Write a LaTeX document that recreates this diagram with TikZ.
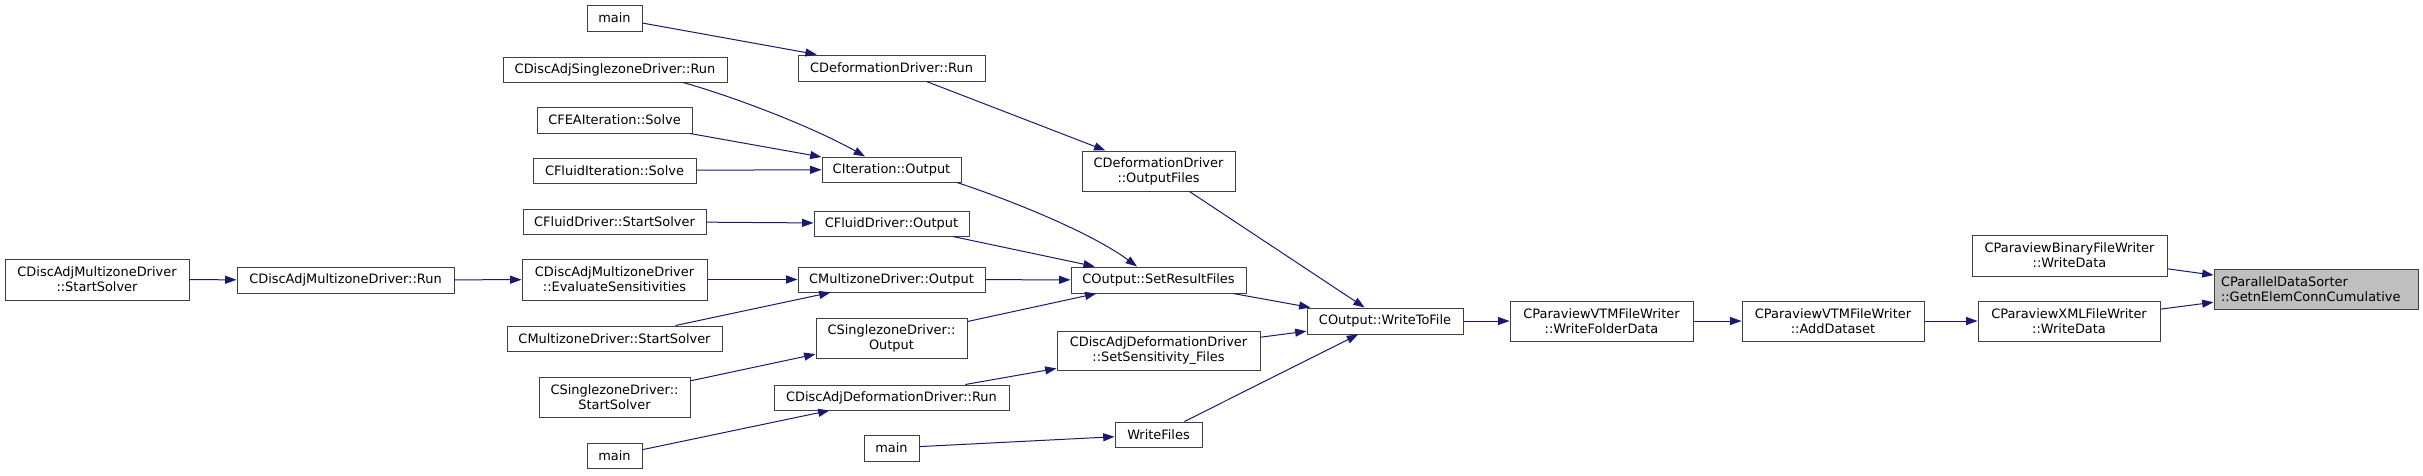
\documentclass[tikz,border=0pt]{standalone}
\usepackage{fontspec}
\setmainfont{DejaVu Sans}
\usetikzlibrary{arrows.meta}
\definecolor{edgeblue}{HTML}{191970}
\definecolor{boxline}{HTML}{404040}
\definecolor{rootfill}{HTML}{BFBFBF}
\newcommand{\nodefont}{\fontsize{9.7}{11.25}\selectfont}
\begin{document}
\begin{tikzpicture}[x=0.75pt,y=-0.75pt,
  box/.style={draw=boxline, line width=0.75pt, fill=white, inner sep=0pt, align=center, font=\nodefont},
  wh/.style 2 args={minimum width=#1*0.75pt, minimum height=#2*0.75pt},
  root/.style={box, fill=rootfill, align=left, text width=190*0.75pt},
  edge/.style={draw=edgeblue, line width=0.75pt, -{Triangle[length=8.5pt,width=6pt]}}]
\useasboundingbox (0,0) rectangle (2423,475);

% column 1
\node[box, wh={184}{41}] (dams) at (97,279.5) {CDiscAdjMultizoneDriver\\::StartSolver};
% column 2
\node[box, wh={217}{26}] (damr) at (345.5,280) {CDiscAdjMultizoneDriver::Run};
% column 3
\node[box, wh={55}{26}] (m1) at (614.5,18) {main};
\node[box, wh={224}{25}] (dasr) at (615,69.5) {CDiscAdjSinglezoneDriver::Run};
\node[box, wh={155}{26}] (fea) at (614.5,120) {CFEAIteration::Solve};
\node[box, wh={163}{25}] (fis) at (614.5,170.5) {CFluidIteration::Solve};
\node[box, wh={183}{25}] (fdss) at (614.5,221.5) {CFluidDriver::StartSolver};
\node[box, wh={185}{41}] (dame) at (614.5,279.5) {CDiscAdjMultizoneDriver\\::EvaluateSensitivities};
\node[box, wh={215}{25}] (mzss) at (614.5,338.5) {CMultizoneDriver::StartSolver};
\node[box, wh={151}{40}] (szss) at (614.5,397) {CSinglezoneDriver::\\StartSolver};
\node[box, wh={55}{25}] (m3) at (614.5,455.5) {main};
% column 4
\node[box, wh={187}{26}] (cdr) at (891.5,68) {CDeformationDriver::Run};
\node[box, wh={139}{25}] (cio) at (891.5,169.5) {CIteration::Output};
\node[box, wh={155}{25}] (cfdo) at (891.5,223.5) {CFluidDriver::Output};
\node[box, wh={187}{25}] (cmzo) at (891.5,279.5) {CMultizoneDriver::Output};
\node[box, wh={151}{40}] (cszo) at (891.5,338) {CSinglezoneDriver::\\Output};
\node[box, wh={235}{25}] (cdadr) at (891.5,397.5) {CDiscAdjDeformationDriver::Run};
\node[box, wh={55}{26}] (m2) at (891.5,448) {main};
% column 5
\node[box, wh={153}{40}] (cdof) at (1158.5,171) {CDeformationDriver\\::OutputFiles};
\node[box, wh={175}{26}] (osrf) at (1158.5,280) {COutput::SetResultFiles};
\node[box, wh={203}{39}] (dssf) at (1158.5,350.5) {CDiscAdjDeformationDriver\\::SetSensitivity\_Files};
\node[box, wh={87}{25}] (wf) at (1158.5,434.5) {WriteFiles};
% column 6+
\node[box, wh={156}{26}] (owtf) at (1385,321) {COutput::WriteToFile};
\node[box, wh={183}{40}] (wfd) at (1601.5,321) {CParaviewVTMFileWriter\\::WriteFolderData};
\node[box, wh={182}{40}] (ad) at (1833,321) {CParaviewVTMFileWriter\\::AddDataset};
\node[box, wh={182}{40}] (xml) at (2069,321) {CParaviewXMLFileWriter\\::WriteData};
\node[box, wh={195}{41}] (bin) at (2069.5,255.5) {CParaviewBinaryFileWriter\\::WriteData};
\node[root, wh={204}{40}] (gray) at (2316,289) {CParallelDataSorter\\::GetnElemConnCumulative};

% edges
\draw[edge] (dams) -- (damr);
\draw[edge] (damr) -- (dame);
\draw[edge] (m1) -- (cdr);
\draw[edge] ([xshift=51pt]dasr.south) .. controls (735,97) and (815,128) .. ([xshift=-19.9pt]cio.north);
\draw[edge] (fea) -- (cio);
\draw[edge] (fis) -- (cio);
\draw[edge] (fdss) -- (cfdo);
\draw[edge] (dame) -- (cmzo);
\draw[edge] (mzss) -- (cmzo);
\draw[edge] (szss) -- (cszo);
\draw[edge] (m3) -- (cdadr);
\draw[edge] (cdr) -- (cdof);
\draw[edge] ([xshift=49.1pt]cio.south) .. controls (1010,200) and (1090,232) .. ([xshift=-16.1pt]osrf.north);
\draw[edge] (cfdo) -- (osrf);
\draw[edge] (cmzo) -- (osrf);
\draw[edge] (cszo) -- (osrf);
\draw[edge] (cdadr) -- (dssf);
\draw[edge] (m2) -- (wf);
\draw[edge] (cdof) -- (owtf);
\draw[edge] (osrf) -- (owtf);
\draw[edge] (dssf) -- (owtf);
\draw[edge] (wf) -- (owtf);
\draw[edge] (owtf) -- (wfd);
\draw[edge] (wfd) -- (ad);
\draw[edge] (ad) -- (xml);
\draw[edge] (xml) -- (gray);
\draw[edge] (bin) -- (gray);
\end{tikzpicture}
\end{document}
